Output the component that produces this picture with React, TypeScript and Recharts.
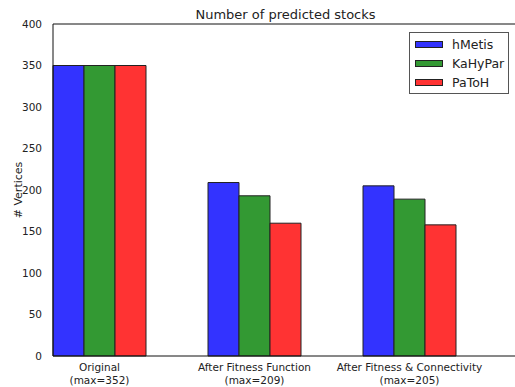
import React from "react";
import { BarChart, Bar, XAxis, YAxis, ReferenceLine } from "recharts";

// Stages of the pipeline and the maximum reported for each
const stages = ["Original", "After Fitness Function", "After Fitness & Connectivity"];
const stageMax = [352, 209, 205];

// Predicted stock counts per partitioner
const hMetis = [350, 209, 205];
const kaHyPar = [350, 193, 189];
const paToH = [350, 160, 158];

const yTicks = [0, 50, 100, 150, 200, 250, 300, 350, 400];

const seriesInfo = [
  { key: "hMetis", name: "hMetis", color: "#3333ff" },
  { key: "KaHyPar", name: "KaHyPar", color: "#339933" },
  { key: "PaToH", name: "PaToH", color: "#ff3333" },
];

const data = stages.map((stage, i) => ({
  stage,
  max: stageMax[i],
  hMetis: hMetis[i],
  KaHyPar: kaHyPar[i],
  PaToH: paToH[i],
}));

const FONT = "'DejaVu Sans', sans-serif";

const StageTick = (props: any) => {
  const { x, y, payload, index } = props;
  const max = stageMax[index] ?? data[index]?.max;
  return (
    <g transform={`translate(${x},${y})`}>
      <text textAnchor="middle" fontFamily={FONT} fontSize={10.5} fill="#222">
        <tspan x={0} dy={6.5}>{payload.value}</tspan>
        <tspan x={0} dy={13}>{`(max=${max})`}</tspan>
      </text>
    </g>
  );
};

// Legend box in the upper-right corner of the plot
const LegendBox = () => (
  <div
    style={{
      position: "absolute",
      left: 409,
      top: 32,
      border: "1px solid #555",
      background: "#fff",
      width: 100,
      height: 62,
      boxSizing: "border-box",
      paddingTop: 2,
      fontFamily: FONT,
      fontSize: 12.5,
      color: "#222",
    }}
  >
    {seriesInfo.map((s) => (
      <div key={s.key} style={{ display: "flex", alignItems: "center", height: 19 }}>
        <div
          style={{
            marginLeft: 5,
            width: 28,
            height: 7,
            background: s.color,
            border: "1px solid #222",
            boxSizing: "border-box",
          }}
        />
        <span style={{ marginLeft: 9, lineHeight: "19px" }}>{s.name}</span>
      </div>
    ))}
  </div>
);

export default function App() {
  return (
    <div
      style={{
        position: "fixed",
        left: 0,
        top: 0,
        width: 515,
        height: 387,
        overflow: "hidden",
        background: "#fff",
      }}
    >
      <div
        style={{
          position: "absolute",
          left: 0,
          width: 571,
          top: 7,
          textAlign: "center",
          fontFamily: FONT,
          fontSize: 13,
          color: "#222",
        }}
      >
        Number of predicted stocks
      </div>
      <BarChart
        width={520}
        height={387}
        data={data}
        margin={{ top: 24, right: 2, bottom: 0, left: 13 }}
        barGap={0}
        barCategoryGap={31}
      >
        <XAxis
          dataKey="stage"
          type="category"
          padding={{ left: -31, right: 31 }}
          height={31}
          tickLine={false}
          axisLine={{ stroke: "#111", strokeWidth: 1 }}
          tick={<StageTick />}
          interval={0}
        />
        <YAxis
          domain={[0, 400]}
          ticks={yTicks}
          width={40}
          tickLine={false}
          tickMargin={5}
          axisLine={{ stroke: "#111", strokeWidth: 1 }}
          tick={{ fontFamily: FONT, fontSize: 10.5, fill: "#222" }}
          label={{
            value: "# Vertices",
            angle: -90,
            position: "insideLeft",
            offset: 5,
            style: { fontFamily: FONT, fontSize: 11, fill: "#222", textAnchor: "middle" },
          }}
        />
        <ReferenceLine y={400} stroke="#111" strokeWidth={1} />
        {seriesInfo.map((s) => (
          <Bar
            key={s.key}
            dataKey={s.key}
            name={s.name}
            fill={s.color}
            stroke="#222"
            strokeWidth={1}
            barSize={31}
            isAnimationActive={false}
          />
        ))}
      </BarChart>
      <LegendBox />
    </div>
  );
}
